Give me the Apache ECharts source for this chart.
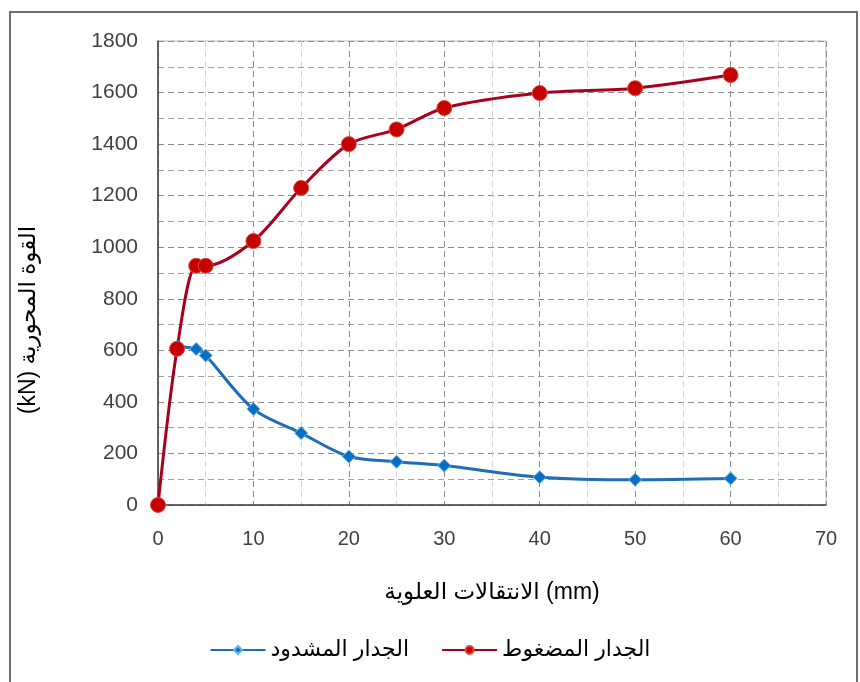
<!DOCTYPE html>
<html>
<head>
<meta charset="UTF-8">
<title>chart</title>
<script type="text/javascript" src="https://cdn.jsdelivr.net/npm/echarts@6/dist/echarts.min.js"></script>
<style>
    body { margin: 0; background: #fff; }
</style>
</head>
<body>
    <div id="main" style="width: 860px; height: 682px;"></div>
    <script type="text/javascript">
        // بيانات المنحنيين
        var xTicks = [0, 10, 20, 30, 40, 50, 60, 70];
        var yTicks = [0, 200, 400, 600, 800, 1000, 1200, 1400, 1600, 1800];

        var tensionName = 'الجدار المشدود';
        var tensionX = [2, 4, 5, 10, 15, 20, 25, 30, 40, 50, 60];
        var tensionY = [615, 605, 580, 372, 279, 188, 168, 153, 108, 98, 103];

        var compName = 'الجدار المضغوط';
        var compX = [0, 2, 4, 5, 10, 15, 20, 25, 30, 40, 50, 60];
        var compY = [0, 606, 928, 928, 1024, 1230, 1400, 1457, 1540, 1598, 1617, 1668];

        var xName = 'الانتقالات العلوية (mm)';
        var yName = '(kN) القوة المحورية';

        function pairs(xs, ys) {
            var out = [];
            for (var i = 0; i < xs.length; i++) out.push([xs[i], ys[i]]);
            return out;
        }

        var font = 'Liberation Sans, DejaVu Sans, sans-serif';
        var myChart = echarts.init(document.getElementById('main'));

        var option = {
            backgroundColor: '#fff',
            animation: false,
            graphic: [
                {
                    type: 'rect',
                    shape: { x: 10, y: 12, width: 847, height: 690 },
                    style: { fill: 'none', stroke: '#6e6e6e', lineWidth: 2 }
                },
                {
                    type: 'text',
                    x: 29, y: 320,
                    rotation: Math.PI / 2,
                    style: {
                        text: yName,
                        font: '23px ' + font,
                        fill: '#000',
                        align: 'center',
                        verticalAlign: 'middle'
                    }
                }
            ],
            grid: {
                left: 158, right: 34, top: 41, bottom: 177,
                show: true,
                borderColor: '#a9b9cc',
                borderWidth: 1
            },
            legend: {
                bottom: 16,
                left: 'center',
                itemGap: 32,
                itemWidth: 55,
                itemHeight: 10,
                textStyle: { fontFamily: font, fontSize: 22, color: '#000' },
                data: [tensionName, compName]
            },
            xAxis: {
                type: 'value',
                min: 0, max: 70, interval: 10,
                name: xName,
                nameLocation: 'middle',
                nameGap: 76,
                nameTextStyle: { fontFamily: font, fontSize: 23, color: '#000' },
                axisLine: { lineStyle: { color: '#404040', width: 1.5 } },
                axisTick: { show: false },
                axisLabel: { fontFamily: font, fontSize: 20, color: '#404040', margin: 24 },
                splitLine: { lineStyle: { color: '#8c8c8c', type: [6, 4] } },
                minorTick: { show: false, splitNumber: 2 },
                minorSplitLine: { show: true, lineStyle: { color: '#d2d2d2', type: [6, 4] } }
            },
            yAxis: {
                type: 'value',
                min: 0, max: 1800, interval: 200,
                axisLine: { show: true, lineStyle: { color: '#404040', width: 1.5 } },
                axisTick: { show: false },
                axisLabel: {
                    fontFamily: font, fontSize: 21, color: '#404040', margin: 20,
                    formatter: function (v) { return String(v); }
                },
                splitLine: { lineStyle: { color: '#8c8c8c', type: [6, 4] } },
                minorTick: { show: false, splitNumber: 2 },
                minorSplitLine: { show: true, lineStyle: { color: '#a0a0a0', type: [6, 4] } }
            },
            series: [
                {
                    name: tensionName,
                    type: 'line',
                    smooth: 0.3,
                    data: pairs(tensionX, tensionY),
                    symbol: 'diamond',
                    symbolSize: 13,
                    itemStyle: { color: '#0a6fc2', borderColor: '#5bb5ef', borderWidth: 1 },
                    lineStyle: { color: '#1f6db5', width: 3 }
                },
                {
                    name: compName,
                    type: 'line',
                    smooth: 0.3,
                    data: pairs(compX, compY),
                    symbol: 'circle',
                    symbolSize: 15,
                    itemStyle: { color: '#c40000', borderColor: '#e04a3a', borderWidth: 1 },
                    lineStyle: { color: '#a8001e', width: 3 }
                }
            ]
        };

        myChart.setOption(option);
    </script>
</body>
</html>
